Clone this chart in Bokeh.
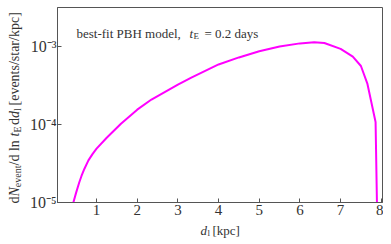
import numpy as np
from bokeh.plotting import figure
from bokeh.layouts import row, column
from bokeh.models import FixedTicker, CustomJSTickFormatter, Label, Range1d
from bokeh.embed import file_html
from bokeh.resources import INLINE

# lens distance d_l [kpc]
d_kpc = [0.42, 0.43, 0.50, 0.576, 0.63, 0.70, 0.80, 0.90, 1.00, 1.25, 1.60, 2.00,
         2.35, 3.00, 3.33, 4.00, 4.50, 5.00, 5.50, 6.00, 6.35, 6.60, 7.00, 7.30,
         7.50, 7.66, 7.84, 7.86, 7.895]
# log10 of dN_event / dln t_E dd_l [events/star/kpc]
log_rate = [-5.05, -5.00, -4.87, -4.74, -4.66, -4.57, -4.46, -4.38, -4.31, -4.17,
            -3.99, -3.81, -3.68, -3.49, -3.40, -3.23, -3.14, -3.06, -3.00, -2.96,
            -2.945, -2.955, -3.03, -3.13, -3.25, -3.48, -3.92, -3.97, -5.05]
rate = [10 ** v for v in log_rate]

x_ticks = [1, 2, 3, 4, 5, 6, 7, 8]
y_ticks = [1e-5, 1e-4, 1e-3]

SERIF = "Liberation Serif"
TXT = "#333333"
AX = "#555555"

LEFT_W = 26
MAIN_W = 383 - LEFT_W
MAIN_H = 222
BOT_H = 22
TOTAL_H = MAIN_H + BOT_H
FRAME_L = 56  # frame left edge in page pixels

p = figure(width=MAIN_W, height=MAIN_H, y_axis_type="log",
           x_range=Range1d(0.04, 8.03), y_range=Range1d(1e-5, 10 ** -2.5),
           output_backend="svg", toolbar_location=None,
           min_border_left=FRAME_L - LEFT_W, min_border_right=1, min_border_top=7,
           min_border_bottom=20)

p.line(d_kpc, rate, line_color="#ff00ff", line_width=2)

p.grid.visible = False
p.outline_line_color = AX
p.outline_line_width = 1
p.background_fill_color = "white"
p.border_fill_color = "white"

for ax in (p.xaxis[0], p.yaxis[0]):
    ax.axis_line_color = AX
    ax.major_tick_line_color = AX
    ax.major_tick_in = 4
    ax.major_tick_out = 0
    ax.minor_tick_line_color = None
    ax.major_label_text_font = SERIF
    ax.major_label_text_font_size = "15px"
    ax.major_label_text_color = TXT
    ax.major_label_standoff = 2
p.yaxis.major_label_text_font_size = "16px"
p.yaxis.major_label_standoff = 1

p.xaxis.ticker = FixedTicker(ticks=x_ticks)
p.yaxis.ticker = FixedTicker(ticks=y_ticks)
p.yaxis.formatter = CustomJSTickFormatter(code="""
const sup = {'-':'\u207b','0':'\u2070','1':'\u00b9','2':'\u00b2','3':'\u00b3','4':'\u2074',
             '5':'\u2075','6':'\u2076','7':'\u2077','8':'\u2078','9':'\u2079'};
const e = Math.round(Math.log10(tick));
return '10' + String(e).split('').map(c => sup[c]).join('');
""")


def lab(fig, text, x, y, size, italic=False, angle=0.0):
    fig.add_layout(Label(x=x, y=y, x_units="screen", y_units="screen", text=text,
                         text_font=SERIF, text_font_size=size,
                         text_font_style="italic" if italic else "normal",
                         text_color=TXT, text_baseline="alphabetic",
                         text_align="left", angle=angle))


def blank(w, h):
    f = figure(width=w, height=h, output_backend="svg", toolbar_location=None,
               x_axis_location=None, y_axis_location=None,
               x_range=Range1d(0, w), y_range=Range1d(0, h),
               min_border=0, min_border_left=0, min_border_right=0,
               min_border_top=0, min_border_bottom=0)
    f.grid.visible = False
    f.outline_line_color = None
    f.background_fill_color = "white"
    f.border_fill_color = "white"
    return f


# annotation inside the frame: best-fit PBH model, t_E = 0.2 days
ay = 169
lab(p, "best-fit PBH model,", 19, ay, "13px")
lab(p, "t", 132, ay, "13px", italic=True)
lab(p, "E", 136, ay - 2.5, "9px")
lab(p, "= 0.2 days", 147, ay, "13px")

# x axis label below: d_l [kpc]  (frame of this strip is aligned with the main frame)
bot = blank(MAIN_W, BOT_H)
bx0 = 199 - FRAME_L
by = 14.5
lab(bot, "d", bx0, by, "13px", italic=True)
lab(bot, "l", bx0 + 7, by - 2.5, "9px")
lab(bot, "[kpc]", bx0 + 12, by, "13px")

# y axis label (rotated) at the left
left = blank(LEFT_W, TOTAL_H)
A = np.pi / 2
yx = 14
sx = yx + 3
y0 = TOTAL_H - 203
lab(left, "d", yx, y0 + 0, "14px", angle=A)
lab(left, "N", yx, y0 + 7, "14px", italic=True, angle=A)
lab(left, "event", sx, y0 + 16.3, "10px", angle=A)
lab(left, "/d ln", yx, y0 + 38, "14px", angle=A)
lab(left, "t", yx, y0 + 67, "14px", italic=True, angle=A)
lab(left, "E", sx, y0 + 71, "10px", angle=A)
lab(left, "d", yx, y0 + 78.5, "14px", angle=A)
lab(left, "d", yx, y0 + 85.5, "14px", italic=True, angle=A)
lab(left, "l", sx, y0 + 92.5, "10px", angle=A)
lab(left, "[events/star/kpc]", yx, y0 + 98, "14px", angle=A)

layout = row(left, column(p, bot, spacing=0), spacing=0)

open("out.html", "w").write(file_html(layout, INLINE))
